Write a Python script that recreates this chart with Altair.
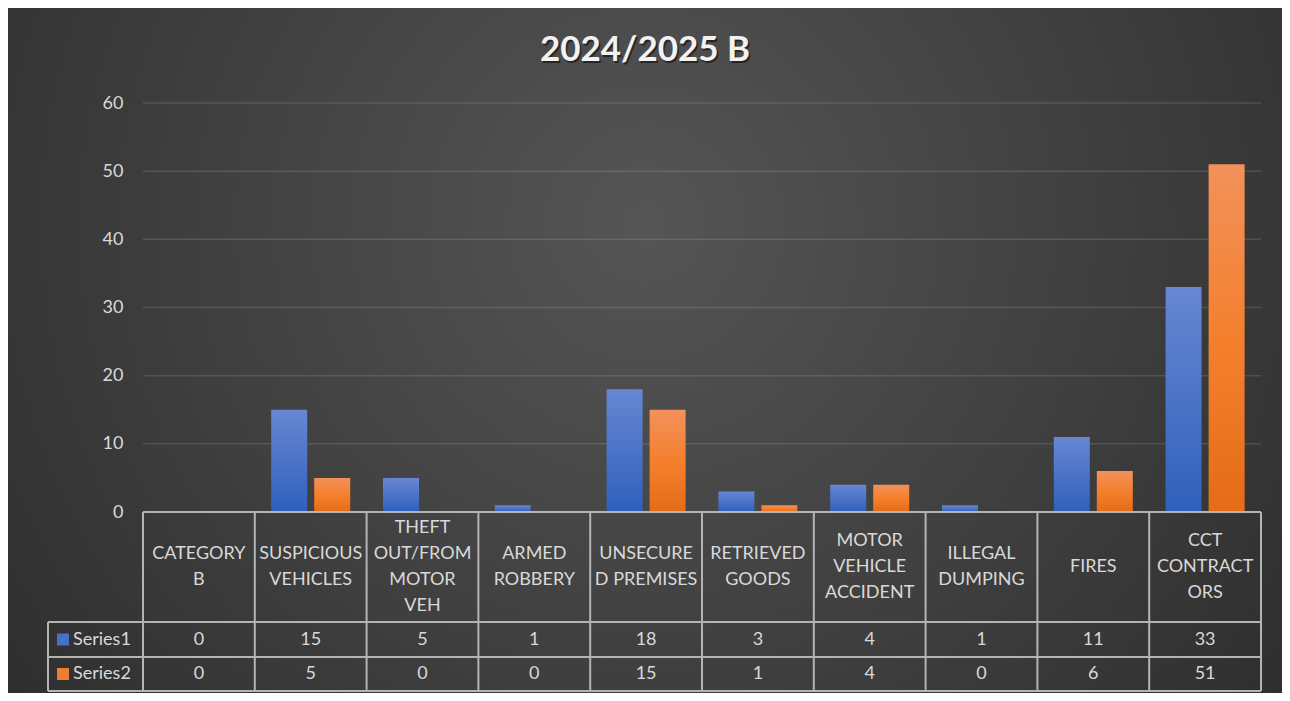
import altair as alt
import pandas as pd

# ---------------- data ----------------
categories = ["CATEGORY B", "SUSPICIOUS VEHICLES", "THEFT OUT/FROM MOTOR VEH",
              "ARMED ROBBERY", "UNSECURED PREMISES", "RETRIEVED GOODS",
              "MOTOR VEHICLE ACCIDENT", "ILLEGAL DUMPING", "FIRES", "CCT CONTRACTORS"]
category_labels = ["CATEGORY\nB", "SUSPICIOUS\nVEHICLES", "THEFT\nOUT/FROM\nMOTOR\nVEH",
                   "ARMED\nROBBERY", "UNSECURE\nD PREMISES", "RETRIEVED\nGOODS",
                   "MOTOR\nVEHICLE\nACCIDENT", "ILLEGAL\nDUMPING", "FIRES", "CCT\nCONTRACT\nORS"]
series1 = [0, 15, 5, 1, 18, 3, 4, 1, 11, 33]
series2 = [0, 5, 0, 0, 15, 1, 4, 0, 6, 51]
series_names = ["Series1", "Series2"]
y_ticks = [0, 10, 20, 30, 40, 50, 60]
title_text = "2024/2025 B"

# ---------------- styles / layout ----------------
FONT = "Lato"
TXT = "#d9d9d9"
LINE = "#b4b4b4"
W, H = 1118, 588
PAD = {"left": 135, "right": 21, "top": 95, "bottom": 2}
ZERO_Y, ROW1, ROW2, BOTTOM = 409, 519, 554, 588
LEG_X = -95
LINE_H = 26
swatch_colors = ["#4472C4", "#ED7D31"]
bar_gradients = [
    {"gradient": "linear", "x1": 0, "y1": 0, "x2": 0, "y2": 1,
     "stops": [{"offset": 0, "color": "#6787d2"}, {"offset": 1, "color": "#2f60bc"}]},
    {"gradient": "linear", "x1": 0, "y1": 0, "x2": 0, "y2": 1,
     "stops": [{"offset": 0, "color": "#f2915a"}, {"offset": 0.5, "color": "#f4802e"},
               {"offset": 1, "color": "#e56c18"}]},
]

long_df = pd.DataFrame({
    "cat": categories * 2,
    "series": [series_names[0]] * len(categories) + [series_names[1]] * len(categories),
    "value": series1 + series2,
})
head_df = pd.DataFrame({"cat": categories, "label": category_labels})
tick_df = pd.DataFrame({"v": y_ticks})
one = pd.DataFrame({"a": [0]})

x_scale = alt.Scale(domain=categories, paddingInner=0, paddingOuter=0)
y_scale = alt.Scale(domain=[0, 60], range=[ZERO_Y, 0], nice=False, zero=True)
y_axis = alt.Axis(values=y_ticks, grid=False, domain=False, ticks=False, labelPadding=20,
                  labelFont=FONT, labelFontSize=18, labelColor=TXT, title=None, zindex=1)


def xcat(**kw):
    return alt.X("cat:N", sort=categories, scale=x_scale, axis=None, **kw)


# background (radial gradient)
bg = alt.Chart(one).mark_rect(
    color={"gradient": "radial", "x1": 0.5, "y1": 0.4, "r1": 0, "x2": 0.5, "y2": 0.4, "r2": 0.78,
           "stops": [{"offset": 0, "color": "#555555"}, {"offset": 1, "color": "#252525"}]}
).encode(x=alt.value(-PAD["left"]), x2=alt.value(W + PAD["right"]),
         y=alt.value(-PAD["top"]), y2=alt.value(H + PAD["bottom"]))

grid = alt.Chart(tick_df).mark_rule(color="#ffffff", opacity=0.12, strokeWidth=1.5).encode(
    y=alt.Y("v:Q", scale=y_scale, axis=y_axis))

bars = []
for name, grad in zip(series_names, bar_gradients):
    bars.append(
        alt.Chart(long_df).transform_filter(alt.datum.series == name).mark_bar(color=grad).encode(
            x=xcat(),
            xOffset=alt.XOffset("series:N", scale=alt.Scale(domain=series_names,
                                                            paddingInner=0.163, paddingOuter=0.381)),
            y=alt.Y("value:Q", scale=y_scale, axis=None),
        )
    )

# table grid lines
vlines = alt.Chart(head_df).mark_rule(color=LINE, strokeWidth=2).encode(
    x=xcat(bandPosition=0), y=alt.value(ZERO_Y), y2=alt.value(BOTTOM))
right_line = alt.Chart(one).mark_rule(color=LINE, strokeWidth=2).encode(
    x=alt.value(W), y=alt.value(ZERO_Y), y2=alt.value(BOTTOM))
left_line = alt.Chart(one).mark_rule(color=LINE, strokeWidth=2).encode(
    x=alt.value(LEG_X), y=alt.value(ROW1), y2=alt.value(BOTTOM))
top_line = alt.Chart(one).mark_rule(color=LINE, strokeWidth=2).encode(
    x=alt.value(0), x2=alt.value(W), y=alt.value(ZERO_Y))
hlines = [alt.Chart(one).mark_rule(color=LINE, strokeWidth=2).encode(
    x=alt.value(LEG_X), x2=alt.value(W), y=alt.value(yy)) for yy in (ROW1, ROW2, BOTTOM)]

# header text: vertically centre the wrapped block in the header row
header = alt.Chart(head_df).transform_calculate(
    ypos=f"{(ZERO_Y + ROW1) / 2} - (length(split(datum.label, '\\n')) - 1) * {LINE_H / 2}"
).mark_text(
    font=FONT, fontSize=18, color=TXT, lineBreak="\n", lineHeight=LINE_H, baseline="middle", align="center"
).encode(x=xcat(), y=alt.Y("ypos:Q", scale=None, axis=None), text="label:N")

# value rows + legend column
rows = []
for name, col, yc in zip(series_names, swatch_colors, [(ROW1 + ROW2) / 2, (ROW2 + BOTTOM) / 2]):
    sub = alt.Chart(long_df).transform_filter(alt.datum.series == name)
    rows.append(sub.mark_text(font=FONT, fontSize=18, color=TXT, baseline="middle").encode(
        x=xcat(), y=alt.value(yc), text=alt.Text("value:Q")))
    leg = alt.Chart(pd.DataFrame({"series": [name]}))
    rows.append(leg.mark_rect(color=col).encode(
        x=alt.value(LEG_X + 9), x2=alt.value(LEG_X + 21), y=alt.value(yc - 6), y2=alt.value(yc + 6)))
    rows.append(leg.mark_text(font=FONT, fontSize=18, color=TXT, align="left", baseline="middle").encode(
        x=alt.value(LEG_X + 25), y=alt.value(yc), text="series:N"))

# title
title_df = pd.DataFrame({"t": [title_text]})
title_shadow = alt.Chart(title_df).mark_text(
    font=FONT, fontSize=35, fontWeight="bold", color="#000000", opacity=0.5, dx=1.5, dy=2,
    baseline="middle").encode(x=alt.value(502), y=alt.value(-53), text="t:N")
title = alt.Chart(title_df).mark_text(
    font=FONT, fontSize=35, fontWeight="bold", color="#f2f2f2", baseline="middle").encode(
    x=alt.value(502), y=alt.value(-53), text="t:N")

chart = alt.layer(
    bg, grid, *bars, vlines, right_line, left_line, top_line, *hlines, header, *rows, title_shadow, title
).resolve_scale(y="independent").properties(
    width=W, height=H, padding=PAD, background="#262626",
    autosize=alt.AutoSizeParams(type="none"),
).configure_view(stroke=None)

chart.save("out.html", embed_options={"renderer": "svg", "actions": False})
